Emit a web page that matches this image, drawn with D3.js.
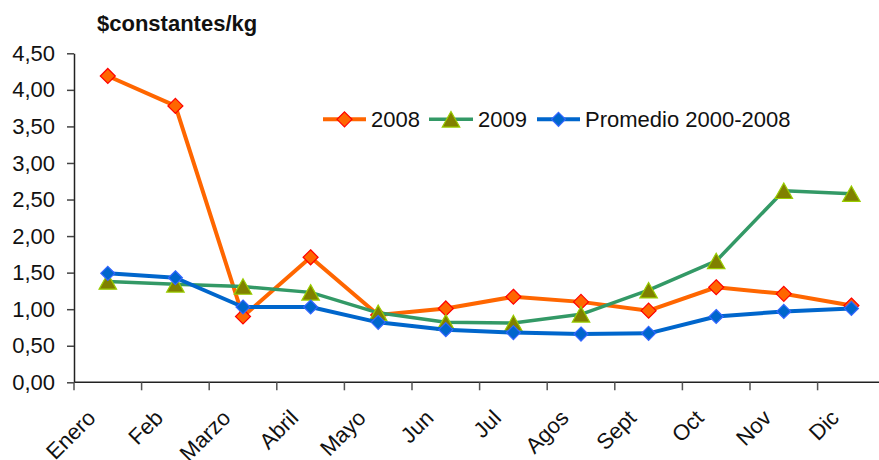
<!DOCTYPE html>
<html>
<head>
<meta charset="utf-8">
<script src="https://cdn.jsdelivr.net/npm/d3@7"></script>
<style>
  html, body { margin: 0; padding: 0; background: #fff; }
  svg { display: block; font-family: "Liberation Sans", Arial, sans-serif; }
</style>
</head>
<body>
<svg id="chart" width="879" height="460"></svg>
<script>
const months = ["Enero","Feb","Marzo","Abril","Mayo","Jun","Jul","Agos","Sept","Oct","Nov","Dic"];
const values2008 = [4.19, 3.78, 0.90, 1.71, 0.92, 1.01, 1.17, 1.10, 0.98, 1.30, 1.21, 1.05];
const values2009 = [1.38, 1.34, 1.31, 1.23, 0.95, 0.82, 0.81, 0.93, 1.26, 1.66, 2.62, 2.58];
const valuesProm = [1.49, 1.43, 1.03, 1.03, 0.82, 0.72, 0.68, 0.66, 0.67, 0.90, 0.97, 1.01];
const seriesNames = ["2008", "2009", "Promedio 2000-2008"];
const yTicks = [0, 0.5, 1, 1.5, 2, 2.5, 3, 3.5, 4, 4.5];
const yTitle = "$constantes/kg";

const svg = d3.select("#chart");
const plotLeft = 74, plotTop = 53.3, plotBottom = 382.3, step = 67.6;
const fs = 22;

const x = d3.scaleBand().domain(months).range([plotLeft, plotLeft + step * months.length]).padding(0);
const y = d3.scaleLinear().domain([0, 4.5]).range([plotBottom, plotTop]);
const fmt = v => d3.format(".2f")(v).replace(".", ",");

// Y axis
const yAxis = svg.append("g")
  .attr("transform", `translate(${plotLeft},0)`)
  .call(d3.axisLeft(y).tickValues(yTicks).tickFormat(fmt).tickSize(7).tickSizeOuter(0).tickPadding(12));
yAxis.select(".domain").attr("stroke", "#222").attr("stroke-width", 1.5);
yAxis.selectAll(".tick line").attr("stroke", "#444").attr("stroke-width", 1.5);
yAxis.selectAll(".tick text").attr("font-size", fs).attr("fill", "#111")
  .attr("font-family", "Liberation Sans, Arial, sans-serif");

// X axis
const xAxis = svg.append("g")
  .attr("transform", `translate(0,${plotBottom})`)
  .call(d3.axisBottom(x).tickSize(8).tickSizeOuter(0));
xAxis.select(".domain").attr("stroke", "#222").attr("stroke-width", 1.5)
  .attr("d", `M${plotLeft},0H879`);
xAxis.selectAll(".tick line").attr("stroke", "#555").attr("stroke-width", 1.5)
  .attr("x1", -x.bandwidth() / 2).attr("x2", -x.bandwidth() / 2);
xAxis.selectAll(".tick text")
  .attr("font-size", fs).attr("fill", "#111")
  .attr("font-family", "Liberation Sans, Arial, sans-serif")
  .attr("text-anchor", "end")
  .attr("dy", null).attr("y", null)
  .attr("transform", "translate(-11,37) rotate(-45)");

// Title
svg.append("text").attr("x", 97).attr("y", 31)
  .attr("font-size", fs).attr("font-weight", "bold").attr("fill", "#111")
  .text(yTitle);

// Markers
const diamond = (s) => `M0,${-s}L${s},0L0,${s}L${-s},0Z`;
const triangle = (w, h) => `M0,${-h/2}L${w/2},${h/2}L${-w/2},${h/2}Z`;

const series = [
  { name: seriesNames[0], values: values2008, line: "#FF6600", lw: 4, fill: "#FF6600", stroke: "#FF0000", path: diamond(7.5) },
  { name: seriesNames[1], values: values2009, line: "#339966", lw: 3.5, fill: "#808000", stroke: "#99CC00", path: triangle(17.5, 15.5) },
  { name: seriesNames[2], values: valuesProm, line: "#0066CC", lw: 4, fill: "#0066CC", stroke: "#3366FF", path: diamond(7) }
];

const cx = m => x(m) + x.bandwidth() / 2;
const line = d3.line().x((d, i) => cx(months[i])).y(d => y(d));

series.forEach(s => {
  const g = svg.append("g");
  g.append("path").attr("d", line(s.values)).attr("fill", "none")
    .attr("stroke", s.line).attr("stroke-width", s.lw).attr("stroke-linejoin", "round");
  g.selectAll("path.m").data(s.values).join("path").attr("class", "m")
    .attr("d", s.path)
    .attr("transform", (d, i) => `translate(${cx(months[i])},${y(d)})`)
    .attr("fill", s.fill).attr("stroke", s.stroke).attr("stroke-width", 1.2);
});

// Legend
const legendItems = [
  { x1: 323, x2: 366, tx: 371 },
  { x1: 429, x2: 473, tx: 478 },
  { x1: 537, x2: 580, tx: 585 }
];
const ly = 119.3;
series.forEach((s, i) => {
  const it = legendItems[i];
  const g = svg.append("g");
  g.append("line").attr("x1", it.x1).attr("x2", it.x2).attr("y1", ly).attr("y2", ly)
    .attr("stroke", s.line).attr("stroke-width", s.lw);
  g.append("path").attr("d", s.path)
    .attr("transform", `translate(${(it.x1 + it.x2) / 2},${ly})`)
    .attr("fill", s.fill).attr("stroke", s.stroke).attr("stroke-width", 1.2);
  g.append("text").attr("x", it.tx).attr("y", ly + 7.5)
    .attr("font-size", fs).attr("fill", "#111").text(s.name);
});
</script>
</body>
</html>
